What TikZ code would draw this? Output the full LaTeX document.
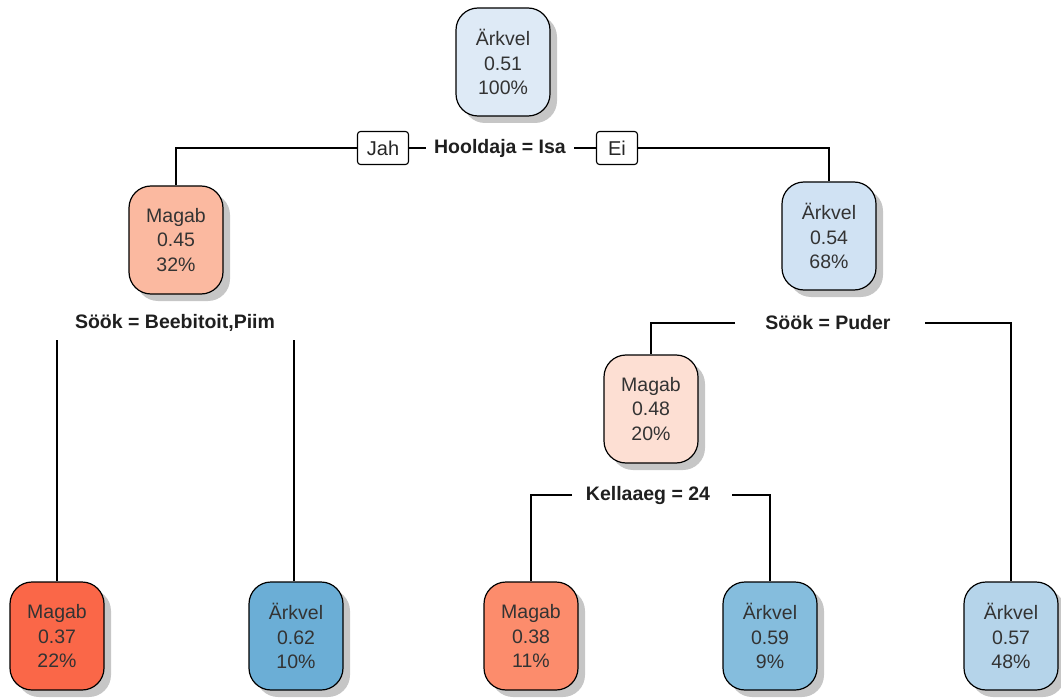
\documentclass[tikz,border=0pt]{standalone}
\usepackage{fontspec}
\setmainfont{Liberation Sans}
\usetikzlibrary{shadows}
\definecolor{cA}{HTML}{DEEAF6}
\definecolor{cB}{HTML}{FBB9A0}
\definecolor{cC}{HTML}{D0E2F3}
\definecolor{cD}{HTML}{FDDFD3}
\definecolor{cE}{HTML}{FA6748}
\definecolor{cF}{HTML}{6BAED6}
\definecolor{cG}{HTML}{FC8C6C}
\definecolor{cH}{HTML}{85BDDD}
\definecolor{cI}{HTML}{B5D4EA}
\tikzset{
  treebox/.style={draw=black, line width=1.2pt, rounded corners=22pt,
    minimum width=94pt, minimum height=108pt, align=center, inner sep=0pt,
    text=black!80, font=\fontsize{19.5}{24.5}\selectfont,
    drop shadow={shadow xshift=7pt, shadow yshift=-7pt, fill=black!28, opacity=0.8}},
  splitlab/.style={font=\fontsize{19.5}{24}\selectfont\bfseries, text=black!88, inner xsep=8pt, inner ysep=2pt},
  edgelab/.style={draw=black, line width=1.1pt, rounded corners=3pt, font=\fontsize{20}{24}\selectfont,
    text=black!85, minimum height=33pt, inner xsep=6pt},
  conn/.style={draw=black, line width=1.3pt}
}
\begin{document}
\begin{tikzpicture}[x=1pt,y=-1pt]
\useasboundingbox (0,0) rectangle (1061,698);
% nodes
\node[treebox, fill=cA] (n1) at (503,62) {Ärkvel\\0.51\\100\%};
\node[treebox, fill=cB] (n2) at (176,240) {Magab\\0.45\\32\%};
\node[treebox, fill=cC] (n3) at (829,236) {Ärkvel\\0.54\\68\%};
\node[treebox, fill=cD] (n4) at (651,409) {Magab\\0.48\\20\%};
\node[treebox, fill=cE] (l1) at (57,636) {Magab\\0.37\\22\%};
\node[treebox, fill=cF] (l2) at (296,636) {Ärkvel\\0.62\\10\%};
\node[treebox, fill=cG] (l3) at (531,636) {Magab\\0.38\\11\%};
\node[treebox, fill=cH] (l4) at (770,636) {Ärkvel\\0.59\\9\%};
\node[treebox, fill=cI] (l5) at (1011,636) {Ärkvel\\0.57\\48\%};
% split labels
\node[splitlab] (s1) at (500,148) {Hooldaja = Isa};
\node[edgelab, minimum width=51pt] (jah) at (383,148) {Jah};
\node[edgelab, minimum width=41pt] (ei) at (617,148) {Ei};
\node[splitlab] (s2) at (175,323) {Söök = Beebitoit,Piim};
\node[splitlab] (s3) at (828,323) {Söök = Puder};
\node[splitlab] (s4) at (648,495) {Kellaaeg = 24};
% connector ends
\coordinate (a1) at (57,340);
\coordinate (a2) at (294,340);
\coordinate (b1) at (735,323);
\coordinate (b2) at (925,323);
\coordinate (k1) at (572,495);
\coordinate (k2) at (732,495);
% connectors
\draw[conn] (jah.west) -| (n2.north);
\draw[conn] (jah.east) -- (s1.west);
\draw[conn] (s1.east) -- (ei.west);
\draw[conn] (ei.east) -| (n3.north);
\draw[conn] (a1) -- (l1.north);
\draw[conn] (a2) -- (a2 |- l2.north);
\draw[conn] (b1) -| (n4.north);
\draw[conn] (b2) -| (l5.north);
\draw[conn] (k1) -| (l3.north);
\draw[conn] (k2) -| (l4.north);
\end{tikzpicture}
\end{document}
